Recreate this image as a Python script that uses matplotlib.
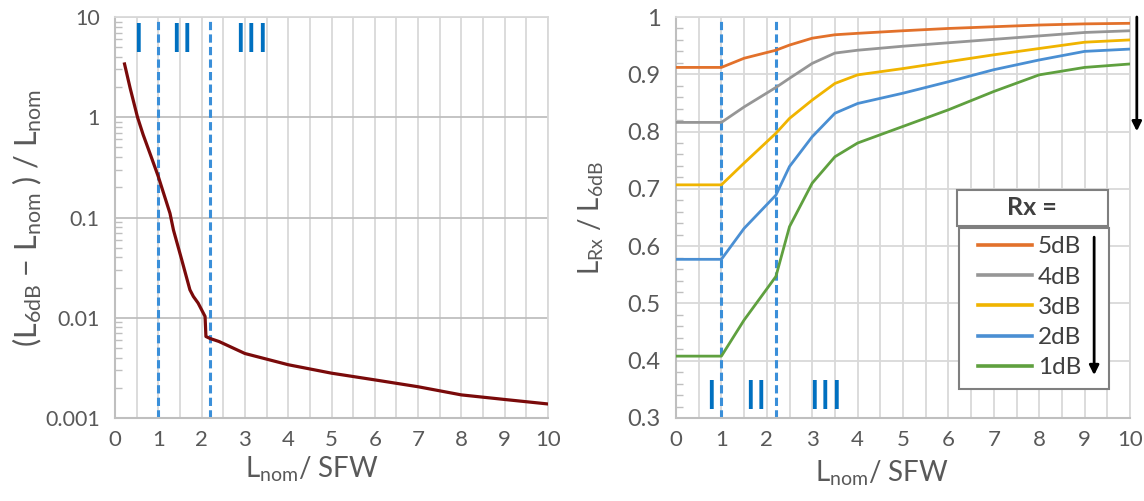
import matplotlib
matplotlib.use("Agg")
import matplotlib.pyplot as plt
from matplotlib.ticker import FixedLocator, MultipleLocator, FuncFormatter, LogLocator, NullFormatter
from matplotlib.patches import Rectangle

plt.rcParams['font.family'] = ['Lato', 'DejaVu Sans']
plt.rcParams['mathtext.default'] = 'regular'

# pannello sinistro: (L6dB - Lnom) / Lnom
l_nom = [0.22, 0.35, 0.52, 0.65, 0.83, 1.0, 1.27, 1.35, 1.54, 1.73, 1.81, 1.92,
         2.08, 2.10, 2.2, 2.4, 3.0, 4.0, 5.0, 6.0, 7.0, 8.0, 9.0, 10.0]
rapporto = [3.4, 1.95, 1.0, 0.67, 0.41, 0.256, 0.11, 0.075, 0.038, 0.019, 0.0163, 0.0140,
            0.0103, 0.0065, 0.0062, 0.0058, 0.0044, 0.0034, 0.0028, 0.0024, 0.00205, 0.0017,
            0.00153, 0.00138]

# pannello destro: LRx / L6dB
x_rx = [0, 1, 1.5, 2.2, 2.5, 3, 3.5, 4, 5, 6, 7, 8, 9, 10]
serie_rx = {
    '5dB': [0.912, 0.912, 0.928, 0.942, 0.951, 0.963, 0.969, 0.9715, 0.976, 0.980, 0.983, 0.986, 0.988, 0.989],
    '4dB': [0.816, 0.816, 0.843, 0.877, 0.893, 0.919, 0.937, 0.942, 0.949, 0.955, 0.961, 0.967, 0.973, 0.976],
    '3dB': [0.707, 0.707, 0.745, 0.797, 0.823, 0.855, 0.884, 0.899, 0.910, 0.922, 0.934, 0.945, 0.956, 0.960],
    '2dB': [0.577, 0.577, 0.631, 0.689, 0.739, 0.791, 0.832, 0.849, 0.867, 0.887, 0.908, 0.925, 0.940, 0.944],
    '1dB': [0.408, 0.408, 0.471, 0.547, 0.634, 0.710, 0.756, 0.780, 0.809, 0.838, 0.870, 0.899, 0.912, 0.918],
}
colori_rx = ['#E2712B', '#969696', '#F0B400', '#4A8FD3', '#5FA03F']

limiti = [1.0, 2.2]          # linee tratteggiate
regioni = ['I', 'II', 'III']
pos_sx = [0.53, 1.55, 3.14]
pos_dx = [0.77, 1.75, 3.28]

grigio_testo = '#595959'
scuro = '#404040'
blu_reg = '#0070C0'
blu_tratt = '#3A8FD9'

fig = plt.figure(figsize=(11.44, 5.01), dpi=100)
ax1 = fig.add_axes([115 / 1144, 83 / 501, 433 / 1144, 401 / 501])
ax2 = fig.add_axes([676 / 1144, 83 / 501, 454 / 1144, 401 / 501])


def stile_assi(ax):
    ax.set_xlim(0, 10)
    ax.xaxis.set_major_locator(MultipleLocator(1))
    ax.xaxis.set_minor_locator(MultipleLocator(0.5))
    ax.grid(True, axis='x', which='both', color='#D9D9D9', lw=1.3)
    for lato in ['top', 'right']:
        ax.spines[lato].set_color('#D9D9D9')
        ax.spines[lato].set_linewidth(1.3)
    for lato in ['left', 'bottom']:
        ax.spines[lato].set_color('#BFBFBF')
        ax.spines[lato].set_linewidth(1.5)
    ax.tick_params(axis='both', which='major', length=0, colors=grigio_testo)
    ax.tick_params(axis='x', which='major', pad=9, labelsize=16)
    ax.tick_params(axis='y', which='major', pad=11)
    ax.tick_params(axis='x', which='minor', length=0)
    ax.tick_params(axis='y', which='minor', direction='in', length=5, width=1, color='#BFBFBF')
    ax.set_axisbelow(True)
    for xv in limiti:
        ax.axvline(xv, color=blu_tratt, lw=2.2, ls=(0, (2.7, 1.4)), zorder=2)
    ax.set_xlabel('L$_{nom}$/ SFW', fontsize=20, color=grigio_testo, va='top')


# --- sinistra ---
stile_assi(ax1)
ax1.set_yscale('log')
ax1.set_ylim(0.001, 10)
ax1.yaxis.set_major_locator(FixedLocator([0.001, 0.01, 0.1, 1, 10]))
ax1.yaxis.set_major_formatter(FuncFormatter(lambda v, p: f'{v:g}'))
ax1.yaxis.set_minor_locator(LogLocator(base=10, subs=range(2, 10)))
ax1.yaxis.set_minor_formatter(NullFormatter())
ax1.tick_params(axis='y', which='major', labelsize=15.5)
ax1.grid(True, axis='y', which='major', color='#BFBFBF', lw=1.3)
ax1.plot(l_nom, rapporto, color='#7A0A0A', lw=2.3, solid_joinstyle='round', zorder=3)
ax1.set_ylabel('(L$_{6dB}$ $-$ L$_{nom}$ ) / L$_{nom}$', fontsize=22, color=grigio_testo)
ax1.yaxis.set_label_coords(-0.163, 0.5)
ax1.xaxis.set_label_coords(0.455, -0.092)
for testo, xp in zip(regioni, pos_sx):
    ax1.text(xp, 0.913, testo, transform=ax1.get_xaxis_transform(), ha='center', va='baseline',
             fontsize=30, family='Liberation Sans', color=blu_reg)

# --- destra ---
stile_assi(ax2)
ax2.set_ylim(0.3, 1.0)
ax2.yaxis.set_major_locator(MultipleLocator(0.1))
ax2.yaxis.set_minor_locator(MultipleLocator(0.02))
ax2.yaxis.set_major_formatter(FuncFormatter(lambda v, p: f'{round(v, 1):g}'))
ax2.tick_params(axis='y', which='major', labelsize=17)
ax2.grid(True, axis='y', which='major', color='#D9D9D9', lw=1.3)
linee = []
for (nome, valori), col in zip(serie_rx.items(), colori_rx):
    l, = ax2.plot(x_rx, valori, color=col, lw=2.0, label=nome, solid_joinstyle='round', zorder=3)
    linee.append(l)
ax2.set_ylabel('L$_{Rx}$ / L$_{6dB}$', fontsize=20, color=grigio_testo)
ax2.yaxis.set_label_coords(-0.155, 0.5)
ax2.xaxis.set_label_coords(0.454, -0.1)
for testo, xp in zip(regioni, pos_dx):
    ax2.text(xp, 0.022, testo, transform=ax2.get_xaxis_transform(), ha='center', va='baseline',
             fontsize=30, family='Liberation Sans', color=blu_reg)

# cornice della legenda disegnata a parte
ax2.add_patch(Rectangle((0.623, 0.072), 0.331, 0.402, transform=ax2.transAxes, facecolor='white',
                        edgecolor='#7F7F7F', lw=1.5, zorder=5))
leg = ax2.legend(handles=linee, loc='upper left', bbox_to_anchor=(0.652, 0.468),
                 borderaxespad=0, frameon=False, fontsize=17.5, handlelength=2.2,
                 handletextpad=0.25, labelspacing=0.38, borderpad=0.25, labelcolor=scuro)
for h in leg.legend_handles:
    h.set_linewidth(2.6)
leg.set_zorder(6)

# riquadro titolo "Rx ="
ax2.add_patch(Rectangle((0.619, 0.479), 0.333, 0.09, transform=ax2.transAxes, facecolor='white',
                        edgecolor='#7F7F7F', lw=1.5, zorder=6))
ax2.text(0.785, 0.524, 'Rx =', transform=ax2.transAxes, ha='center', va='center',
         fontsize=18, fontweight='bold', color=scuro, zorder=7)

# frecce
ax2.annotate('', xy=(0.921, 0.107), xytext=(0.921, 0.451), xycoords='axes fraction',
             arrowprops=dict(arrowstyle='-|>', color='black', lw=2, mutation_scale=14,
                             shrinkA=0, shrinkB=0), zorder=8)
ax2.annotate('', xy=(1.015, 0.715), xytext=(1.015, 1.0), xycoords='axes fraction',
             arrowprops=dict(arrowstyle='-|>', color='black', lw=2, mutation_scale=14,
                             shrinkA=0, shrinkB=0), annotation_clip=False, zorder=8)

fig.savefig('out.png', dpi=100)
